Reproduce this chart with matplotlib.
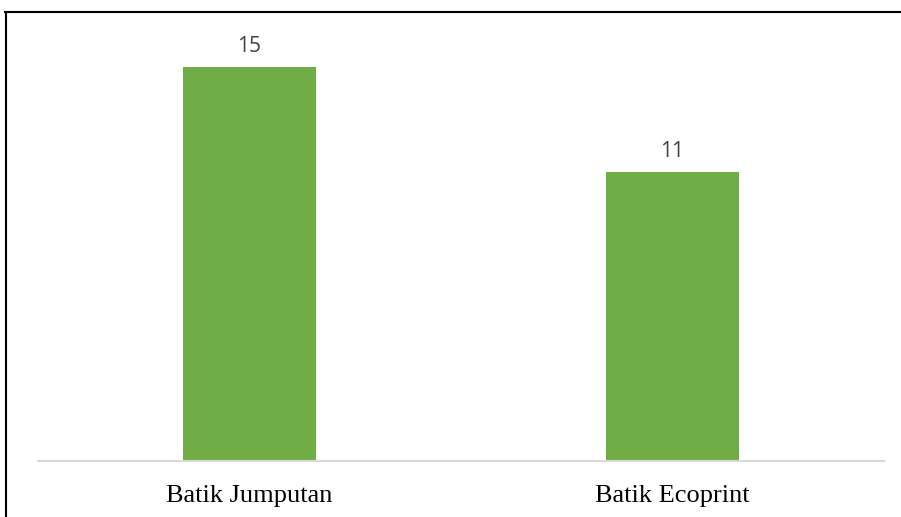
import matplotlib.pyplot as plt
from matplotlib.lines import Line2D

categories = ["Batik Jumputan", "Batik Ecoprint"]
values = [15, 11]

W, H = 901, 517
fig = plt.figure(figsize=(W / 100, H / 100), dpi=100)

# plot area in pixels
left, right, base = 38, 884, 461
top = 41
ax = fig.add_axes([left / W, (H - base) / H, (right - left) / W, (base - top) / H])

x = range(len(categories))
bars = ax.bar(x, values, width=0.315, color="#70AD47", zorder=2)
ax.set_xlim(-0.5, len(categories) - 0.5)
ax.set_ylim(0, 16)

for b, v in zip(bars, values):
    ax.annotate(str(v), (b.get_x() + b.get_width() / 2, v), xytext=(0, 11),
                textcoords="offset points", ha="center", va="baseline",
                fontsize=15, color="#404040", family="Open Sans")

ax.set_xticks(list(x))
ax.set_xticklabels(categories, family="Liberation Serif", fontsize=19, color="black")
ax.tick_params(axis="x", length=0, pad=17.5)
ax.set_yticks([])
for s in ["top", "right", "left"]:
    ax.spines[s].set_visible(False)
ax.spines["bottom"].set_color("#D9D9D9")
ax.spines["bottom"].set_linewidth(1.5)

# outer frame (top and left edges)
fig.add_artist(Line2D([5.5 / W, 5.5 / W], [0, (H - 12) / H], color="black", lw=1.5,
                      transform=fig.transFigure))
fig.add_artist(Line2D([5 / W, 1], [(H - 12) / H, (H - 12) / H], color="black", lw=1.5,
                      transform=fig.transFigure))

fig.savefig("out.png", dpi=100)
